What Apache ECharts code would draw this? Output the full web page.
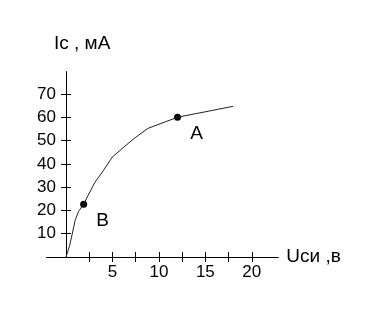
<!DOCTYPE html>
<html>
<head>
<meta charset="utf-8">
<script src="https://cdn.jsdelivr.net/npm/echarts@6/dist/echarts.min.js"></script>
<style>
  html, body { margin: 0; padding: 0; background: #ffffff; }
  #chart { width: 374px; height: 317px; }
</style>
</head>
<body>
<div id="chart"></div>
<script>
// Data
const voltage = [0, 0.4, 1.0, 1.35, 1.9, 2.4, 3.1, 4.0, 5.0, 7.2, 8.8, 12, 18];
const current = [0, 5, 16, 19.6, 22.7, 26.6, 32, 37, 43, 50.5, 55.2, 60, 64.7];
const pointNames = ['A', 'B'];
const pointVoltage = [12, 1.9];
const pointCurrent = [60, 22.7];
const xTickValues = [2.5, 5, 7.5, 10, 12.5, 15, 17.5, 20];
const xLabelValues = [5, 10, 15, 20];
const yTickValues = [10, 20, 30, 40, 50, 60, 70];
const yLabelValues = [10, 20, 30, 40, 50, 60, 70];
const xName = 'Uси ,в';
const yName = 'Ic , мА';

const curveData = voltage.map((u, i) => [u, current[i]]);
const pointData = pointNames.map((n, i) => ({ name: n, value: [pointVoltage[i], pointCurrent[i]] }));

const FONT = 'Liberation Sans, Arial, sans-serif';
const chart = echarts.init(document.getElementById('chart'), null, { renderer: 'canvas' });

const X_MIN = -2.1, X_MAX = 22.85;
const GRID_LEFT = 46.5, GRID_RIGHT = 95.7;
const plotWidth = 374 - GRID_LEFT - GRID_RIGHT;
// shift the y axis so that it sits at x = 0 of the value scale
const yShift = -(0 - X_MIN) / (X_MAX - X_MIN) * plotWidth;

const xBase = { type: 'value', min: X_MIN, max: X_MAX, splitLine: { show: false } };
const yBase = { type: 'value', min: 0, max: 79.6, splitLine: { show: false } };

chart.setOption({
  animation: false,
  backgroundColor: '#ffffff',
  title: {
    text: yName, left: 54, top: 34, padding: 0,
    textStyle: { fontFamily: FONT, fontSize: 19, fontWeight: 'normal', color: '#000' }
  },
  grid: { left: GRID_LEFT, right: GRID_RIGHT, top: 71.6, bottom: 60, containLabel: false },
  xAxis: [
    Object.assign({}, xBase, {
      position: 'bottom',
      name: xName, nameLocation: 'end', nameGap: 8,
      nameTextStyle: { fontFamily: FONT, fontSize: 19, color: '#000', verticalAlign: 'middle' },
      axisLine: { show: true, onZero: false, lineStyle: { color: '#000', width: 1 } },
      axisTick: { show: true, length: 5, customValues: xTickValues, lineStyle: { color: '#000', width: 1 } },
      axisLabel: { show: true, customValues: xLabelValues, margin: 7, fontFamily: FONT, fontSize: 17, color: '#000' }
    }),
    Object.assign({}, xBase, {
      position: 'bottom',
      axisLine: { show: false, onZero: false },
      axisTick: { show: true, inside: true, length: 5, customValues: xTickValues, lineStyle: { color: '#000', width: 1 } },
      axisLabel: { show: false }
    })
  ],
  yAxis: [
    Object.assign({}, yBase, {
      position: 'left', offset: yShift,
      axisLine: { show: true, onZero: false, lineStyle: { color: '#000', width: 1 } },
      axisTick: { show: true, length: 5, customValues: yTickValues, lineStyle: { color: '#000', width: 1 } },
      axisLabel: { show: true, customValues: yLabelValues, margin: 10, fontFamily: FONT, fontSize: 17, color: '#000' }
    }),
    Object.assign({}, yBase, {
      position: 'left', offset: yShift,
      axisLine: { show: false, onZero: false },
      axisTick: { show: true, inside: true, length: 5, customValues: yTickValues, lineStyle: { color: '#000', width: 1 } },
      axisLabel: { show: false }
    })
  ],
  series: [
    {
      type: 'line', xAxisIndex: 0, yAxisIndex: 0,
      data: curveData, showSymbol: false, symbol: 'none', smooth: false,
      lineStyle: { color: '#222', width: 1 }
    },
    {
      type: 'scatter', xAxisIndex: 0, yAxisIndex: 0,
      data: pointData, symbol: 'circle', symbolSize: 7,
      itemStyle: { color: '#000', opacity: 1 },
      label: {
        show: true, position: 'inside', offset: [19, 17],
        formatter: p => p.name,
        fontFamily: FONT, fontSize: 19, color: '#000', opacity: 1,
        textBorderWidth: 0, textBorderColor: 'transparent'
      }
    }
  ]
});
</script>
</body>
</html>
